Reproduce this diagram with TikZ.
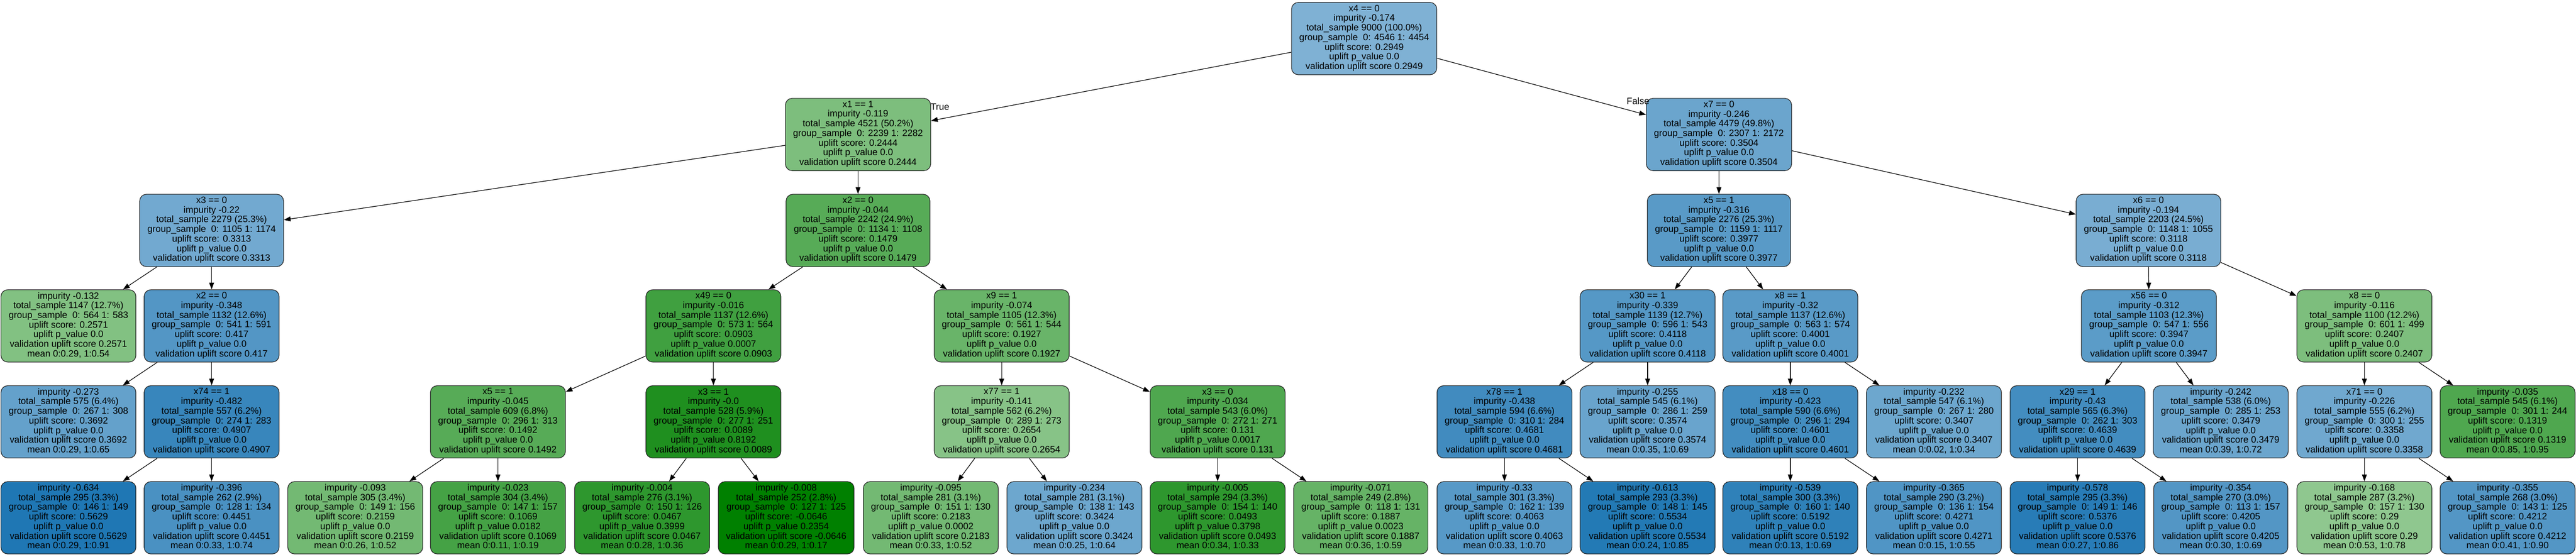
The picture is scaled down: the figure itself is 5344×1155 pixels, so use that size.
\documentclass[tikz,border=0pt]{standalone}
\usepackage{fontspec}
\setmainfont{Liberation Sans}
\usetikzlibrary{arrows.meta}
\definecolor{tgreen}{RGB}{0,128,0}
\definecolor{tblue}{RGB}{31,119,180}
\newcommand{\mkint}[6]{#1\\impurity #2\\total\_sample #3\\group\_sample\ \ #4\\uplift score: #5\\uplift p\_value #6\\validation uplift score #5}
\newcommand{\mkleaf}[6]{impurity #1\\total\_sample #2\\group\_sample\ \ #3\\uplift score: #4\\uplift p\_value #5\\validation uplift score #4\\mean #6}
\begin{document}
\begin{tikzpicture}[x=1pt,y=-1pt,
  box/.style={draw=black!85, line width=1.3pt, rounded corners=14pt, align=center,
    inner xsep=16pt, inner ysep=4pt, minimum height=150pt,
    font=\fontsize{19.2}{20}\selectfont,
    execute at begin node=\strut, execute at end node=\strut},
  gn/.style={box, fill=tgreen!#1!white},
  bn/.style={box, fill=tblue!#1!white},
  edge/.style={draw=black, line width=1.3pt, -{Triangle[length=14pt,width=10pt]}},
  lbl/.style={font=\fontsize{19.2}{20}\selectfont, inner sep=0pt}]
\useasboundingbox (0,0) rectangle (5344,1155);
% level 0
\node[bn=57] (n0) at (2830,80) {\mkint{x4 == 0}{-0.174}{9000 (100.0\%)}{0: 4546 1: 4454}{0.2949}{0.0}};
% level 1
\node[gn=51] (n1) at (1780,279) {\mkint{x1 == 1}{-0.119}{4521 (50.2\%)}{0: 2239 1: 2282}{0.2444}{0.0}};
\node[bn=66] (n2) at (3566,279) {\mkint{x7 == 0}{-0.246}{4479 (49.8\%)}{0: 2307 1: 2172}{0.3504}{0.0}};
% level 2
\node[bn=63] (n3) at (439,478) {\mkint{x3 == 0}{-0.22}{2279 (25.3\%)}{0: 1105 1: 1174}{0.3313}{0.0}};
\node[gn=66] (n4) at (1780,478) {\mkint{x2 == 0}{-0.044}{2242 (24.9\%)}{0: 1134 1: 1108}{0.1479}{0.0}};
\node[bn=74] (n5) at (3566,478) {\mkint{x5 == 1}{-0.316}{2276 (25.3\%)}{0: 1159 1: 1117}{0.3977}{0.0}};
\node[bn=60] (n6) at (4457,478) {\mkint{x6 == 0}{-0.194}{2203 (24.5\%)}{0: 1148 1: 1055}{0.3118}{0.0}};
% level 3
\node[gn=49] (n7) at (142,676) {\mkleaf{-0.132}{1147 (12.7\%)}{0: 564 1: 583}{0.2571}{0.0}{0:0.29, 1:0.54}};
\node[bn=77] (n8) at (439,676) {\mkint{x2 == 0}{-0.348}{1132 (12.6\%)}{0: 541 1: 591}{0.417}{0.0}};
\node[gn=75] (n9) at (1480,676) {\mkint{x49 == 0}{-0.016}{1137 (12.6\%)}{0: 573 1: 564}{0.0903}{0.0007}};
\node[gn=59] (n10) at (2078,676) {\mkint{x9 == 1}{-0.074}{1105 (12.3\%)}{0: 561 1: 544}{0.1927}{0.0}};
\node[bn=76] (n11) at (3418,676) {\mkint{x30 == 1}{-0.339}{1139 (12.7\%)}{0: 596 1: 543}{0.4118}{0.0}};
\node[bn=74] (n12) at (3714,676) {\mkint{x8 == 1}{-0.32}{1137 (12.6\%)}{0: 563 1: 574}{0.4001}{0.0}};
\node[bn=73] (n13) at (4458,676) {\mkint{x56 == 0}{-0.312}{1103 (12.3\%)}{0: 547 1: 556}{0.3947}{0.0}};
\node[gn=51] (n14) at (4905,676) {\mkint{x8 == 0}{-0.116}{1100 (12.2\%)}{0: 601 1: 499}{0.2407}{0.0}};
% level 4
\node[bn=69] (n15) at (142,875) {\mkleaf{-0.273}{575 (6.4\%)}{0: 267 1: 308}{0.3692}{0.0}{0:0.29, 1:0.65}};
\node[bn=89] (n16) at (439,875) {\mkint{x74 == 1}{-0.482}{557 (6.2\%)}{0: 274 1: 283}{0.4907}{0.0}};
\node[gn=66] (n17) at (1033,875) {\mkint{x5 == 1}{-0.045}{609 (6.8\%)}{0: 296 1: 313}{0.1492}{0.0}};
\node[gn=88] (n18) at (1480,875) {\mkint{x3 == 1}{-0.0}{528 (5.9\%)}{0: 277 1: 251}{0.0089}{0.8192}};
\node[gn=47] (n19) at (2078,875) {\mkint{x77 == 1}{-0.141}{562 (6.2\%)}{0: 289 1: 273}{0.2654}{0.0}};
\node[gn=69] (n20) at (2526,875) {\mkint{x3 == 0}{-0.034}{543 (6.0\%)}{0: 272 1: 271}{0.131}{0.0017}};
\node[bn=85] (n21) at (3121,875) {\mkint{x78 == 1}{-0.438}{594 (6.6\%)}{0: 310 1: 284}{0.4681}{0.0}};
\node[bn=67] (n22) at (3418,875) {\mkleaf{-0.255}{545 (6.1\%)}{0: 286 1: 259}{0.3574}{0.0}{0:0.35, 1:0.69}};
\node[bn=84] (n23) at (3714,875) {\mkint{x18 == 0}{-0.423}{590 (6.6\%)}{0: 296 1: 294}{0.4601}{0.0}};
\node[bn=65] (n24) at (4012,875) {\mkleaf{-0.232}{547 (6.1\%)}{0: 267 1: 280}{0.3407}{0.0}{0:0.02, 1:0.34}};
\node[bn=84] (n25) at (4310,875) {\mkint{x29 == 1}{-0.43}{565 (6.3\%)}{0: 262 1: 303}{0.4639}{0.0}};
\node[bn=66] (n26) at (4607,875) {\mkleaf{-0.242}{538 (6.0\%)}{0: 285 1: 253}{0.3479}{0.0}{0:0.39, 1:0.72}};
\node[bn=64] (n27) at (4905,875) {\mkint{x71 == 0}{-0.226}{555 (6.2\%)}{0: 300 1: 255}{0.3358}{0.0}};
\node[gn=69] (n28) at (5202,875) {\mkleaf{-0.035}{545 (6.1\%)}{0: 301 1: 244}{0.1319}{0.0}{0:0.85, 1:0.95}};
% level 5
\node[bn=100] (n29) at (142,1074) {\mkleaf{-0.634}{295 (3.3\%)}{0: 146 1: 149}{0.5629}{0.0}{0:0.29, 1:0.91}};
\node[bn=81] (n30) at (439,1074) {\mkleaf{-0.396}{262 (2.9\%)}{0: 128 1: 134}{0.4451}{0.0}{0:0.33, 1:0.74}};
\node[gn=55] (n31) at (737,1074) {\mkleaf{-0.093}{305 (3.4\%)}{0: 149 1: 156}{0.2159}{0.0}{0:0.26, 1:0.52}};
\node[gn=73] (n32) at (1033,1074) {\mkleaf{-0.023}{304 (3.4\%)}{0: 147 1: 157}{0.1069}{0.0182}{0:0.11, 1:0.19}};
\node[gn=82] (n33) at (1332,1074) {\mkleaf{-0.004}{276 (3.1\%)}{0: 150 1: 126}{0.0467}{0.3999}{0:0.28, 1:0.36}};
\node[gn=100] (n34) at (1631,1074) {\mkleaf{-0.008}{252 (2.8\%)}{0: 127 1: 125}{-0.0646}{0.2354}{0:0.29, 1:0.17}};
\node[gn=55] (n35) at (1931,1074) {\mkleaf{-0.095}{281 (3.1\%)}{0: 151 1: 130}{0.2183}{0.0002}{0:0.33, 1:0.52}};
\node[bn=65] (n36) at (2229,1074) {\mkleaf{-0.234}{281 (3.1\%)}{0: 138 1: 143}{0.3424}{0.0}{0:0.25, 1:0.64}};
\node[gn=82] (n37) at (2526,1074) {\mkleaf{-0.005}{294 (3.3\%)}{0: 154 1: 140}{0.0493}{0.3798}{0:0.34, 1:0.33}};
\node[gn=60] (n38) at (2823,1074) {\mkleaf{-0.071}{249 (2.8\%)}{0: 118 1: 131}{0.1887}{0.0023}{0:0.36, 1:0.59}};
\node[bn=75] (n39) at (3121,1074) {\mkleaf{-0.33}{301 (3.3\%)}{0: 162 1: 139}{0.4063}{0.0}{0:0.33, 1:0.70}};
\node[bn=98] (n40) at (3418,1074) {\mkleaf{-0.613}{293 (3.3\%)}{0: 148 1: 145}{0.5534}{0.0}{0:0.24, 1:0.85}};
\node[bn=93] (n41) at (3714,1074) {\mkleaf{-0.539}{300 (3.3\%)}{0: 160 1: 140}{0.5192}{0.0}{0:0.13, 1:0.69}};
\node[bn=78] (n42) at (4012,1074) {\mkleaf{-0.365}{290 (3.2\%)}{0: 136 1: 154}{0.4271}{0.0}{0:0.15, 1:0.55}};
\node[bn=96] (n43) at (4310,1074) {\mkleaf{-0.578}{295 (3.3\%)}{0: 149 1: 146}{0.5376}{0.0}{0:0.27, 1:0.86}};
\node[bn=77] (n44) at (4607,1074) {\mkleaf{-0.354}{270 (3.0\%)}{0: 113 1: 157}{0.4205}{0.0}{0:0.30, 1:0.69}};
\node[gn=44] (n45) at (4905,1074) {\mkleaf{-0.168}{287 (3.2\%)}{0: 157 1: 130}{0.29}{0.0}{0:0.53, 1:0.78}};
\node[bn=77] (n46) at (5202,1074) {\mkleaf{-0.355}{268 (3.0\%)}{0: 143 1: 125}{0.4212}{0.0}{0:0.41, 1:0.90}};
% edges
\foreach \a/\b in {n0/n1,n0/n2,n1/n3,n1/n4,n2/n5,n2/n6,n3/n7,n3/n8,n4/n9,n4/n10,
  n5/n11,n5/n12,n6/n13,n6/n14,n8/n15,n8/n16,n9/n17,n9/n18,n10/n19,n10/n20,
  n11/n21,n11/n22,n12/n23,n12/n24,n13/n25,n13/n26,n14/n27,n14/n28,
  n16/n29,n16/n30,n17/n31,n17/n32,n18/n33,n18/n34,n19/n35,n19/n36,
  n20/n37,n20/n38,n21/n39,n21/n40,n23/n41,n23/n42,n25/n43,n25/n44,n27/n45,n27/n46}
  \draw[edge] (\a) -- (\b);
% edge labels
\node[lbl] (ltrue) at (1950,222) {True};
\node[lbl] (lfalse) at (3398,210) {False};
\end{tikzpicture}
\end{document}
